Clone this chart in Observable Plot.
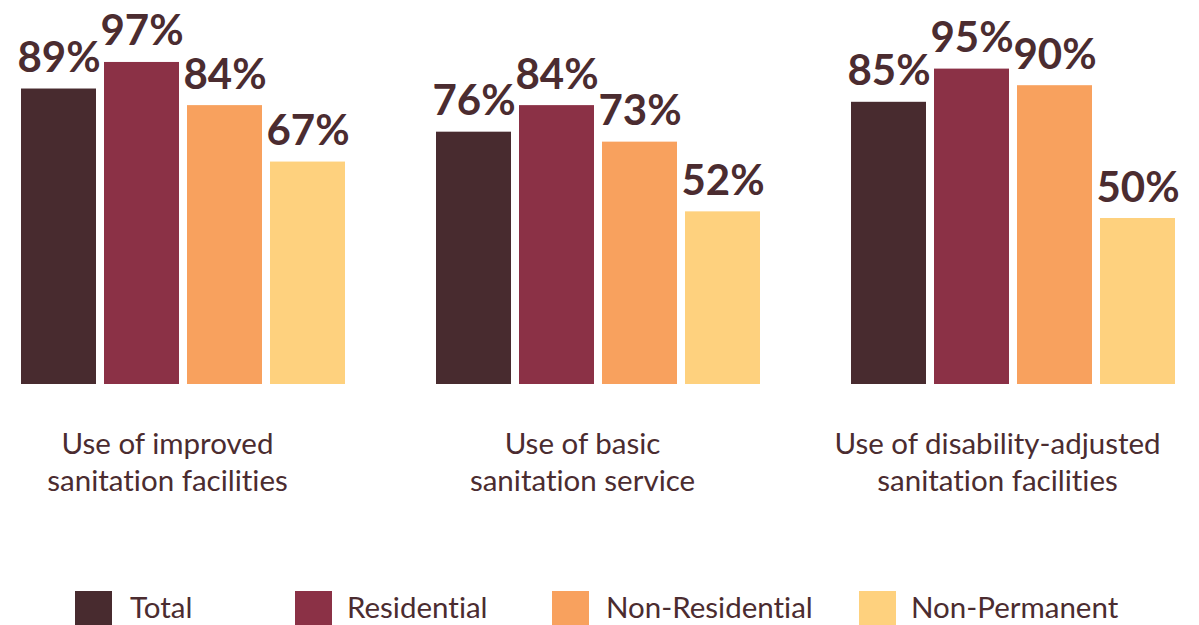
<!DOCTYPE html>
<html>
<head>
<meta charset="utf-8">
<script src="https://cdn.jsdelivr.net/npm/d3@7"></script>
<script src="https://cdn.jsdelivr.net/npm/@observablehq/plot@0.6"></script>
<style>
  html, body { margin: 0; padding: 0; background: #fff; }
  body { width: 1199px; height: 625px; overflow: hidden; font-family: Lato, "Open Sans", sans-serif; font-variant-ligatures: none; }
  svg text { font-variant-ligatures: none; }
  #legend { position: relative; height: 45px; }
  .sw { position: absolute; top: 11px; width: 37px; height: 36px; }
  .lb { position: absolute; top: 10px; font-size: 29.5px; color: #4b2c30; line-height: 34px; }
</style>
</head>
<body>
<div id="chart"></div>
<div id="legend"></div>
<script>
const categories = [
  "Use of improved\nsanitation facilities",
  "Use of basic\nsanitation service",
  "Use of disability-adjusted\nsanitation facilities"
];
const series = ["Total", "Residential", "Non-Residential", "Non-Permanent"];
const colors = ["#482b2f", "#8b3146", "#f8a15e", "#fed17e"];
const total = [89, 76, 85];
const residential = [97, 84, 95];
const nonResidential = [84, 73, 90];
const nonPermanent = [67, 52, 50];

const valuesBySeries = [total, residential, nonResidential, nonPermanent];
const data = [];
categories.forEach((c, i) => {
  series.forEach((s, j) => {
    data.push({category: c, series: s, value: valuesBySeries[j][i]});
  });
});

const textColor = "#4b2c30";

const plot = Plot.plot({
  width: 1199,
  height: 580,
  marginLeft: 20,
  marginRight: 24,
  marginTop: 52,
  marginBottom: 196,
  style: {fontFamily: "Lato, 'Open Sans', sans-serif", background: "#fff"},
  fx: {domain: categories, paddingInner: 0.22, paddingOuter: 0, axis: null},
  x: {domain: series, paddingInner: 0.1, paddingOuter: 0, axis: null},
  y: {domain: [0, 100], axis: null},
  color: {domain: series, range: colors},
  marks: [
    Plot.barY(data, {fx: "category", x: "series", y: "value", fill: "series"}),
    Plot.text(data, {
      fx: "category", x: "series", y: "value",
      text: d => d.value + "%",
      lineAnchor: "bottom", dy: -17,
      fontSize: 42, fontWeight: "bold", fill: textColor
    }),
    Plot.text(categories, {
      fx: d => d, text: d => d,
      frameAnchor: "bottom", lineAnchor: "top",
      dy: 43, dx: -16, lineHeight: 1.25,
      fontSize: 29.5, fill: textColor
    })
  ]
});
document.getElementById("chart").appendChild(plot);

const legend = document.getElementById("legend");
const swX = [75, 295, 552, 859];
const lbX = [130, 347, 606, 911];
series.forEach((s, j) => {
  const sw = document.createElement("div");
  sw.className = "sw";
  sw.style.left = swX[j] + "px";
  sw.style.background = colors[j];
  legend.appendChild(sw);
  const lb = document.createElement("div");
  lb.className = "lb";
  lb.style.left = lbX[j] + "px";
  lb.textContent = s;
  legend.appendChild(lb);
});
</script>
</body>
</html>
